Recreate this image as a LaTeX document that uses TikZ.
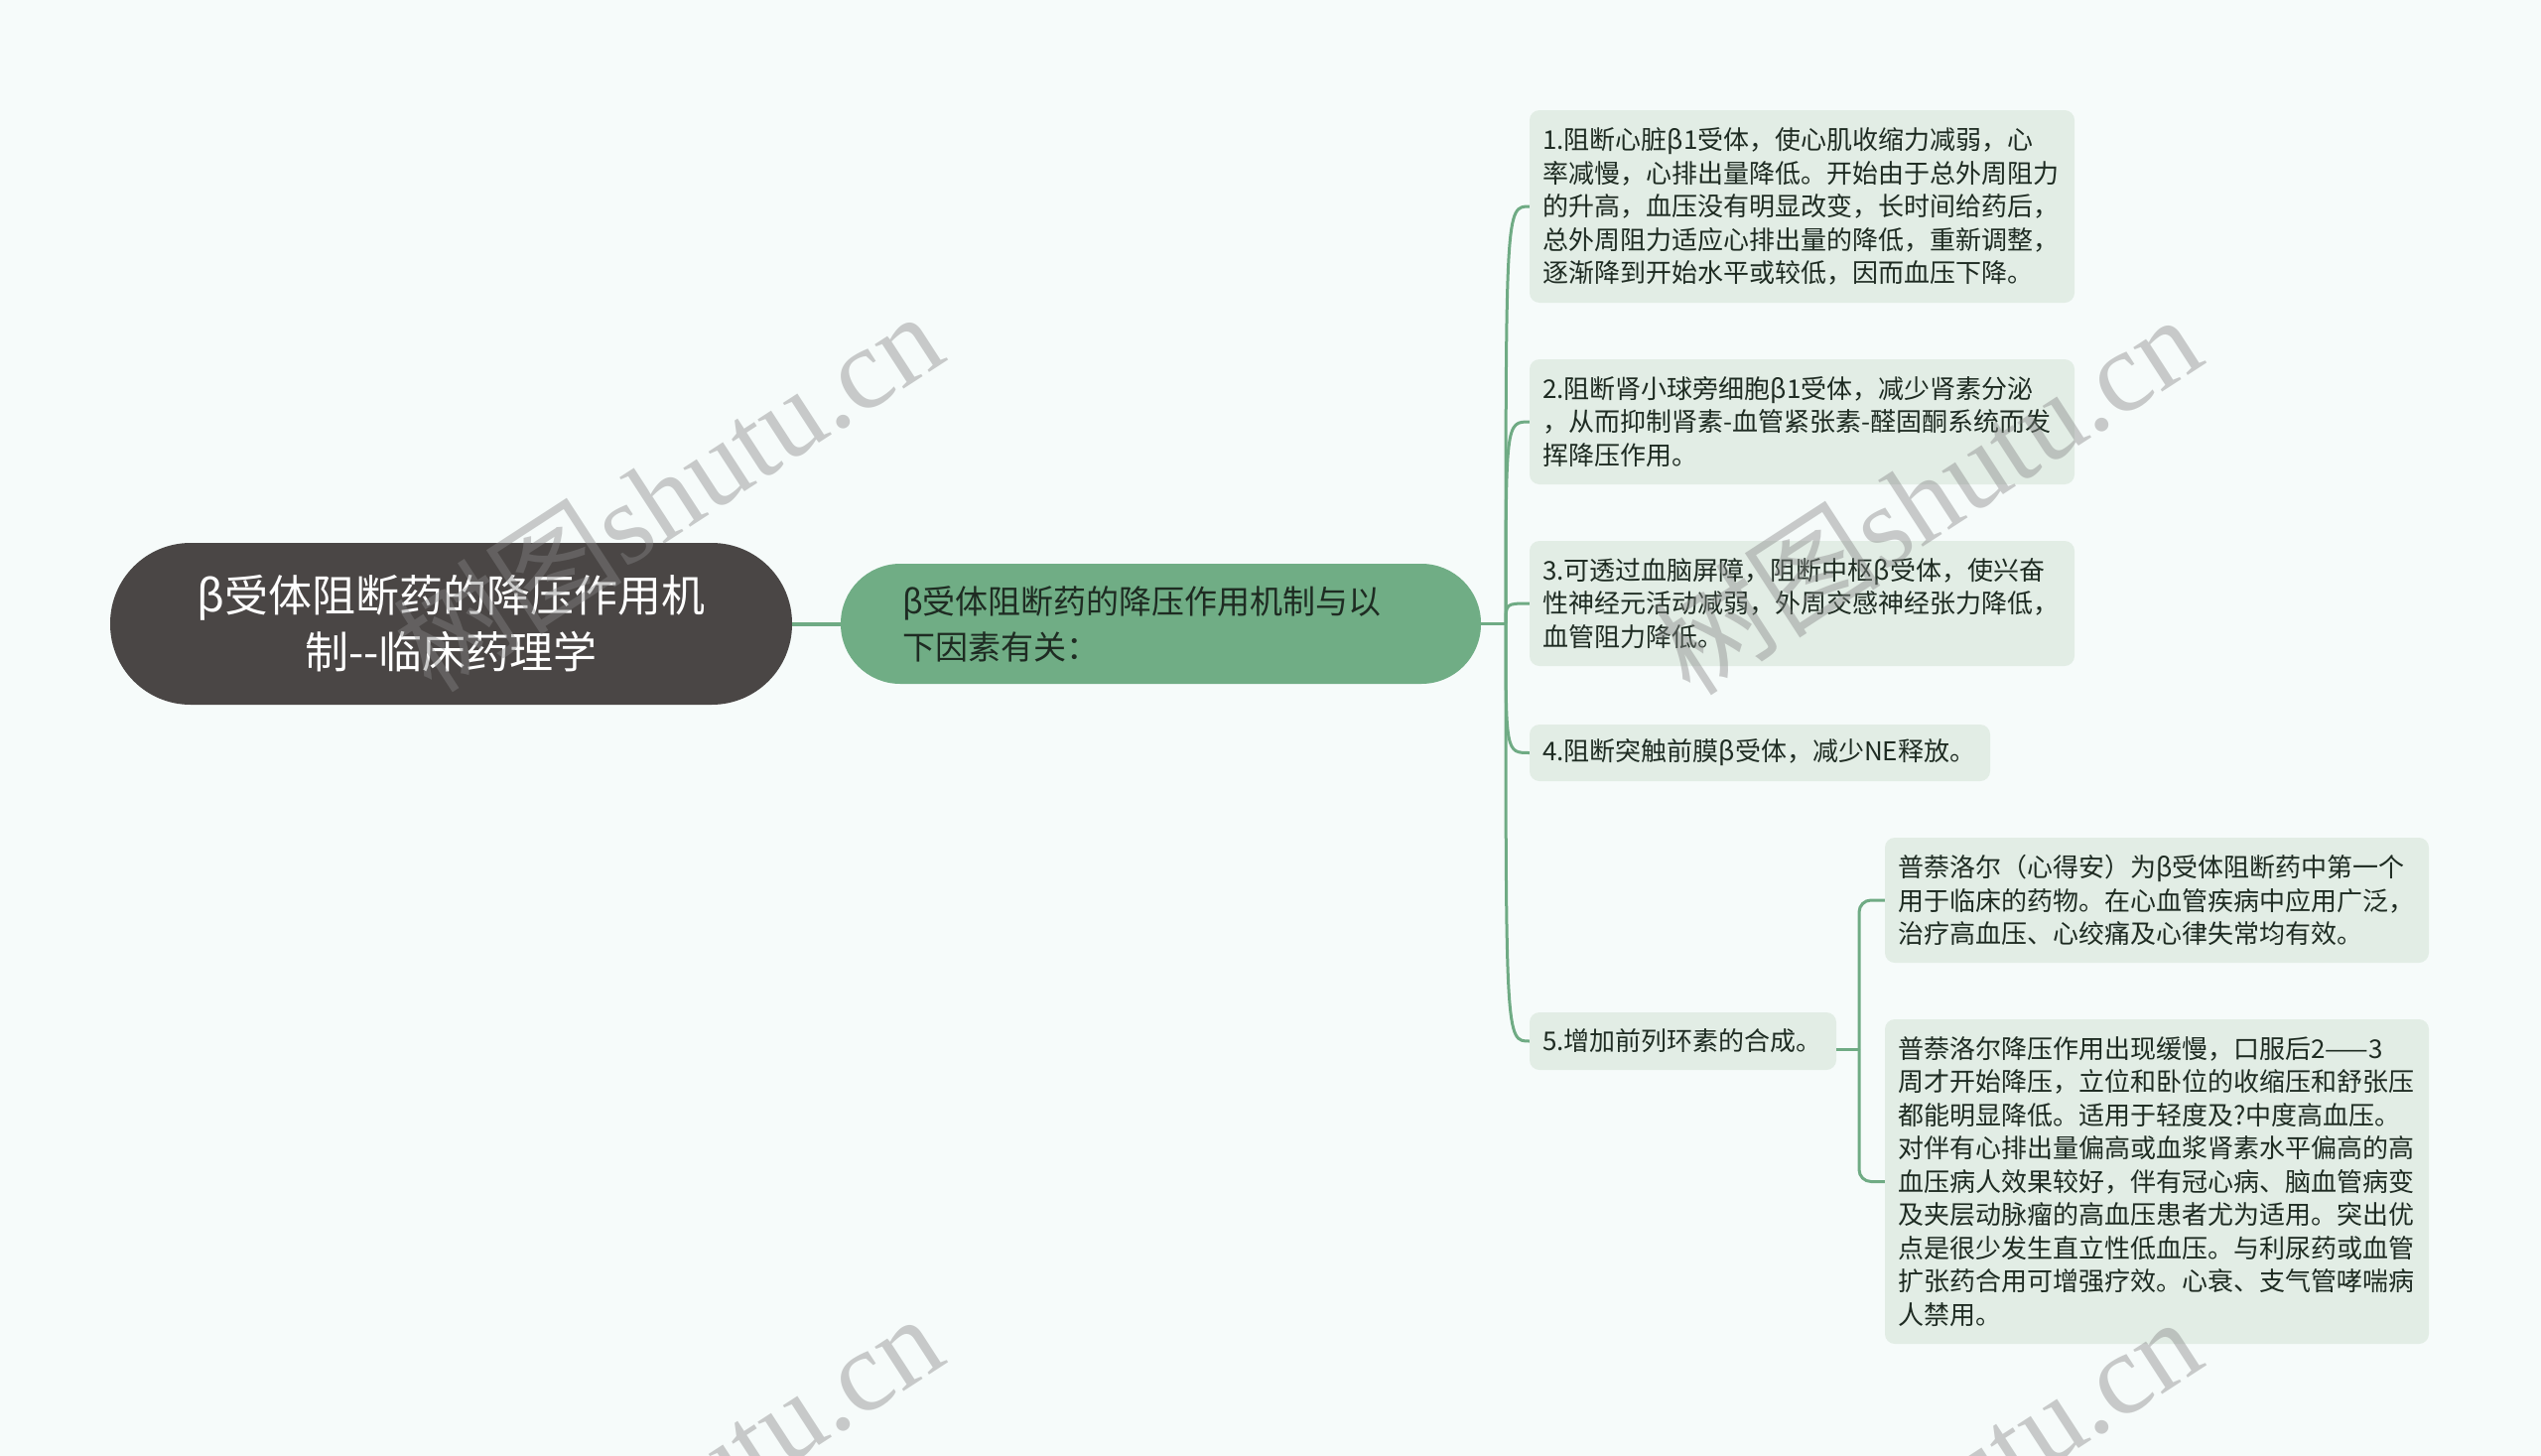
\documentclass[tikz,border=0pt]{standalone}
\usepackage{fontspec}
\setmainfont{Noto Sans CJK SC}
\newfontfamily\cjkfont{Noto Sans CJK SC}
\newfontfamily\wmfont{Liberation Serif}
\definecolor{bgc}{HTML}{F6FBFA}
\definecolor{rootc}{HTML}{4A4645}
\definecolor{midc}{HTML}{70AD85}
\definecolor{connc}{HTML}{6FAB84}
\definecolor{leafc}{HTML}{E2EDE5}
\definecolor{txtc}{HTML}{1E2B22}
\definecolor{wmc}{HTML}{868686}
\begin{document}
\begin{tikzpicture}[x=1pt,y=-1pt,
  rootbox/.style={fill=rootc, rounded corners=81pt, minimum width=687pt, minimum height=163pt, inner sep=0pt, text=white, align=center, font=\fontsize{44}{57}\selectfont},
  midbox/.style={fill=midc, rounded corners=60pt, minimum width=645pt, minimum height=121pt, inner sep=0pt, text=txtc, align=left, text width=521pt, font=\fontsize{33}{46}\selectfont},
  leaf/.style={fill=leafc, rounded corners=10pt, inner xsep=13pt, inner ysep=0pt, align=left, text=txtc, font=\fontsize{26}{33.5}\selectfont},
  conn/.style={draw=connc, line width=3pt},
  wm/.style={text=wmc, text opacity=0.42, font=\wmfont\fontsize{116}{116}\selectfont, inner sep=0pt, rotate=33}]
\useasboundingbox (0,0) rectangle (2560,1467);
\fill[bgc] (0,0) rectangle (2560,1467);

\node[rootbox] (root) at (454.5,628.5) {β受体阻断药的降压作用机\\制-{}-临床药理学};
\node[midbox] (mid) at (1169.5,628.5) {β受体阻断药的降压作用机制与以\\下因素有关：};

\node[leaf, minimum width=549pt, minimum height=194pt, text width=523pt] (c1) at (1815.5,208) {1.阻断心脏β1受体，使心肌收缩力减弱，心\\率减慢，心排出量降低。开始由于总外周阻力\\的升高，血压没有明显改变，长时间给药后，\\总外周阻力适应心排出量的降低，重新调整，\\逐渐降到开始水平或较低，因而血压下降。};
\node[leaf, minimum width=549pt, minimum height=126pt, text width=523pt] (c2) at (1815.5,425) {2.阻断肾小球旁细胞β1受体，减少肾素分泌\\，从而抑制肾素-血管紧张素-醛固酮系统而发\\挥降压作用。};
\node[leaf, minimum width=549pt, minimum height=126pt, text width=523pt] (c3) at (1815.5,608) {3.可透过血脑屏障，阻断中枢β受体，使兴奋\\性神经元活动减弱，外周交感神经张力降低，\\血管阻力降低。};
\node[leaf, minimum width=464pt, minimum height=57pt, text width=438pt] (c4) at (1773,758.5) {4.阻断突触前膜β受体，减少NE释放。};
\node[leaf, minimum width=309pt, minimum height=58pt, text width=283pt] (c5) at (1695.5,1049) {5.增加前列环素的合成。};
\node[leaf, minimum width=548pt, minimum height=126pt, text width=522pt] (c5a) at (2173,907) {普萘洛尔（心得安）为β受体阻断药中第一个\\用于临床的药物。在心血管疾病中应用广泛，\\治疗高血压、心绞痛及心律失常均有效。};
\node[leaf, minimum width=548pt, minimum height=327pt, text width=522pt] (c5b) at (2173,1190.5) {普萘洛尔降压作用出现缓慢，口服后2——3\\周才开始降压，立位和卧位的收缩压和舒张压\\都能明显降低。适用于轻度及?中度高血压。\\对伴有心排出量偏高或血浆肾素水平偏高的高\\血压病人效果较好，伴有冠心病、脑血管病变\\及夹层动脉瘤的高血压患者尤为适用。突出优\\点是很少发生直立性低血压。与利尿药或血管\\扩张药合用可增强疗效。心衰、支气管哮喘病\\人禁用。};

\coordinate (J) at (1517,628.5);
\coordinate (K) at (1873,1057);
\draw[conn, line width=4pt] (root.east) -- (mid.west);
\draw[conn] (mid.east) -- (J);
\foreach \c in {c1,c2,c3,c4,c5}
  \draw[conn] (J) .. controls (J |- \c.west) .. (\c.west);
\draw[conn] (c5.east |- K) -- (K);
\draw[conn, rounded corners=12pt] (K) |- (c5a.west);
\draw[conn, rounded corners=12pt] (K) |- (c5b.west);

\node[wm] (wm1) at (672,494) {{\cjkfont 树图}shutu.cn};
\node[wm] (wm2) at (1940,497) {{\cjkfont 树图}shutu.cn};
\node[wm] (wm3) at (672,1504) {{\cjkfont 树图}shutu.cn};
\node[wm] (wm4) at (1940,1507) {{\cjkfont 树图}shutu.cn};
\end{tikzpicture}
\end{document}
